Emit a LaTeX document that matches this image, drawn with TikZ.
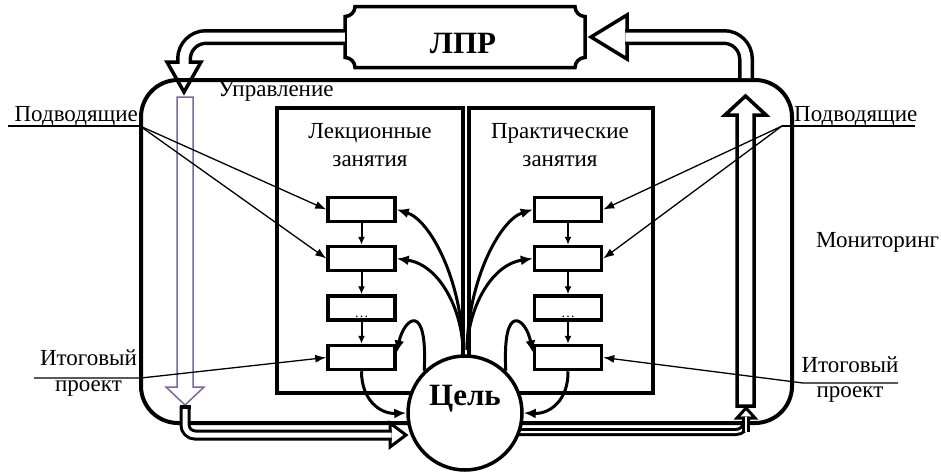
\documentclass[tikz,border=0pt]{standalone}
\usepackage{fontspec}
\setmainfont{Liberation Serif}
\usetikzlibrary{arrows.meta}
\definecolor{purp}{HTML}{8064A2}
\begin{document}
\begin{tikzpicture}[x=1pt,y=-1pt,
  thickline/.style={line width=4pt},
  sbox/.style={draw, line width=3.5pt, minimum width=67pt, minimum height=24pt, inner sep=0pt},
  varrow/.style={line width=2pt, -{Latex[length=8pt,width=7pt]}},
  carrow/.style={line width=3pt, -{Latex[length=12pt,width=10pt]}},
  larrow/.style={line width=1.3pt, -{Latex[length=11pt,width=8pt]}},
  labline/.style={line width=1.3pt},
  lab/.style={font=\fontsize{23}{25}\selectfont, inner sep=0pt},
  big/.style={font=\fontsize{31}{33}\selectfont\bfseries, inner sep=0pt},
  hollow/.style={line width=3.5pt, double=white, double distance=9pt},
  hhead/.style={line width=3.5pt, line join=miter},
]
\useasboundingbox (0,0) rectangle (941,474);

% main frame and inner blocks
\draw[thickline, rounded corners=37pt] (141,80) rectangle (792,423);
\draw[thickline] (277,108) rectangle (463,393);
\draw[thickline] (469,108) rectangle (653,393);

% LPR box
\node[minimum width=240pt, minimum height=61pt, inner sep=0pt] (lpr) at (465,37) {};
\draw[line width=3.5pt] (355,6.5) -- (575,6.5) .. controls (575,12) and (579.5,16.5) .. (585,16.5)
  -- (585,57.5) .. controls (579.5,57.5) and (575,62) .. (575,67.5)
  -- (355,67.5) .. controls (355,62) and (350.5,57.5) .. (345,57.5)
  -- (345,16.5) .. controls (350.5,16.5) and (355,12) .. (355,6.5) -- cycle;
\node[big, anchor=base] (lprtext) at (463,53) {ЛПР};

% LPR -> control (top-left hollow arrow)
\draw[hhead] (167,62) -- (184,92) -- (201,62) -- cycle;
\coordinate (tlturn) at (184,37);
\draw[hollow, rounded corners=22pt] (lpr.west) -- (tlturn) -- (184,63.75);

% monitoring -> LPR (top-right hollow arrow)
\draw[hhead] (627,15) -- (591,37) -- (627,59) -- cycle;
\coordinate (trbase) at (746,78);
\draw[hollow, rounded corners=22pt] (trbase) -- (746,37) -- (625.25,37);

% monitoring arrow (up)
\draw[line width=3.5pt, line join=miter] (737,406) -- (737,115) -- (725,115) -- (745.5,96) -- (766,115) -- (754,115) -- (754,406) -- cycle;

% control arrow (purple, down)
\draw[purp, line width=1.5pt] (177,97) -- (193,97) -- (193,387) -- (204,387) -- (185,405) -- (166,387) -- (177,387) -- cycle;

% bottom-right double arrow (goal -> monitoring)
\draw[line width=3pt, double=white, double distance=2pt, rounded corners=10pt] (500,432) -- (746,432) -- (746,416.5);
\draw[line width=3pt, line join=miter] (737,418) -- (746,408) -- (755,418) -- cycle;
\draw[line width=3pt, double=white, double distance=2pt] (746,432) -- (746,416.5);

% small boxes
\node[sbox] (l1) at (361.5,209.5) {};
\node[sbox] (l2) at (361.5,258.5) {};
\node[sbox] (l3) at (361.5,308) {};
\node[sbox] (l4) at (361.5,357.5) {};
\node[sbox] (r1) at (568,209.5) {};
\node[sbox] (r2) at (568,258.5) {};
\node[sbox] (r3) at (568,308) {};
\node[sbox] (r4) at (568,357.5) {};
\node[font=\fontsize{14}{14}\selectfont, anchor=base, inner sep=0pt] (ld) at (361.5,317) {…};
\node[font=\fontsize{14}{14}\selectfont, anchor=base, inner sep=0pt] (rd) at (568,317) {…};

\draw[varrow] (l1) -- (l2);
\draw[varrow] (l2) -- (l3);
\draw[varrow] (l3) -- (l4);
\draw[varrow] (r1) -- (r2);
\draw[varrow] (r2) -- (r3);
\draw[varrow] (r3) -- (r4);

% goal circle
\node[circle, draw, fill=white, line width=3.5pt, minimum size=114pt, inner sep=0pt] (goal) at (465,413) {};
\node[big, anchor=base] (goaltext) at (465,405) {Цель};

% fan arrows from the goal
\coordinate (hubl) at (463,350);
\coordinate (hubr) at (467,350);
\draw[carrow] (hubl) .. controls (462,280) and (430,220) .. (l1.east);
\draw[carrow] (hubl) .. controls (462,310) and (440,265) .. (l2.east);
\draw[carrow] (hubr) .. controls (468,280) and (500,220) .. (r1.west);
\draw[carrow] (hubr) .. controls (468,310) and (490,265) .. (r2.west);

% loops
\draw[carrow] (goal.134) .. controls (428,300) and (404,318) .. ([yshift=5pt]l4.east);
\draw[carrow] (goal.46) .. controls (502,300) and (526,318) .. ([yshift=5pt]r4.west);

% from final boxes to goal
\draw[carrow] (l4.south) .. controls (361.5,400) and (380,414) .. (goal.west);
\draw[carrow] (r4.south) .. controls (568.5,400) and (550,414) .. (goal.east);

% bottom-left double arrow (control -> goal)
\draw[line width=3pt, line join=miter] (390,423) -- (406,435) -- (390,447) -- cycle;
\draw[line width=3pt, double=white, double distance=5pt, rounded corners=10pt] (185,406) -- (185,435) -- (391.5,435);
\fill (179.5,404.5) rectangle (190.5,409);

% labels
\node[lab, anchor=base west] (upr) at (218,96) {Управление};
\node[lab, anchor=base] (lek1) at (370,138) {Лекционные};
\node[lab, anchor=base] (lek2) at (370,166) {занятия};
\node[lab, anchor=base] (pr1) at (560,138) {Практические};
\node[lab, anchor=base] (pr2) at (560,166) {занятия};
\node[lab, anchor=base west] (mon) at (816,247) {Мониторинг};

\node[lab, anchor=base east] (podl) at (138,121) {Подводящие};
\coordinate (podla) at (8,126);
\coordinate (podlc) at (140,126);
\draw[labline] (podla) -- (podlc);
\draw[larrow] (podlc) -- (l1.west);
\draw[larrow] (podlc) -- (l2.west);

\node[lab, anchor=base west] (podr) at (794,121) {Подводящие};
\coordinate (podrc) at (782,126);
\coordinate (podra) at (915,126);
\draw[labline] (podra) -- (podrc);
\draw[larrow] (podrc) -- (r1.east);
\draw[larrow] (podrc) -- (r2.east);

\node[lab, anchor=base] (itl1) at (88.5,365) {Итоговый};
\node[lab, anchor=base] (itl2) at (88.5,391) {проект};
\coordinate (itla) at (34,378);
\coordinate (itlc) at (141,378);
\draw[larrow] (itla) -- (itlc) -- (l4.west);

\node[lab, anchor=base] (itr1) at (850,372) {Итоговый};
\node[lab, anchor=base] (itr2) at (850,397) {проект};
\coordinate (itra) at (898,383);
\coordinate (itrc) at (803,383);
\draw[larrow] (itra) -- (itrc) -- (r4.east);
\end{tikzpicture}
\end{document}
